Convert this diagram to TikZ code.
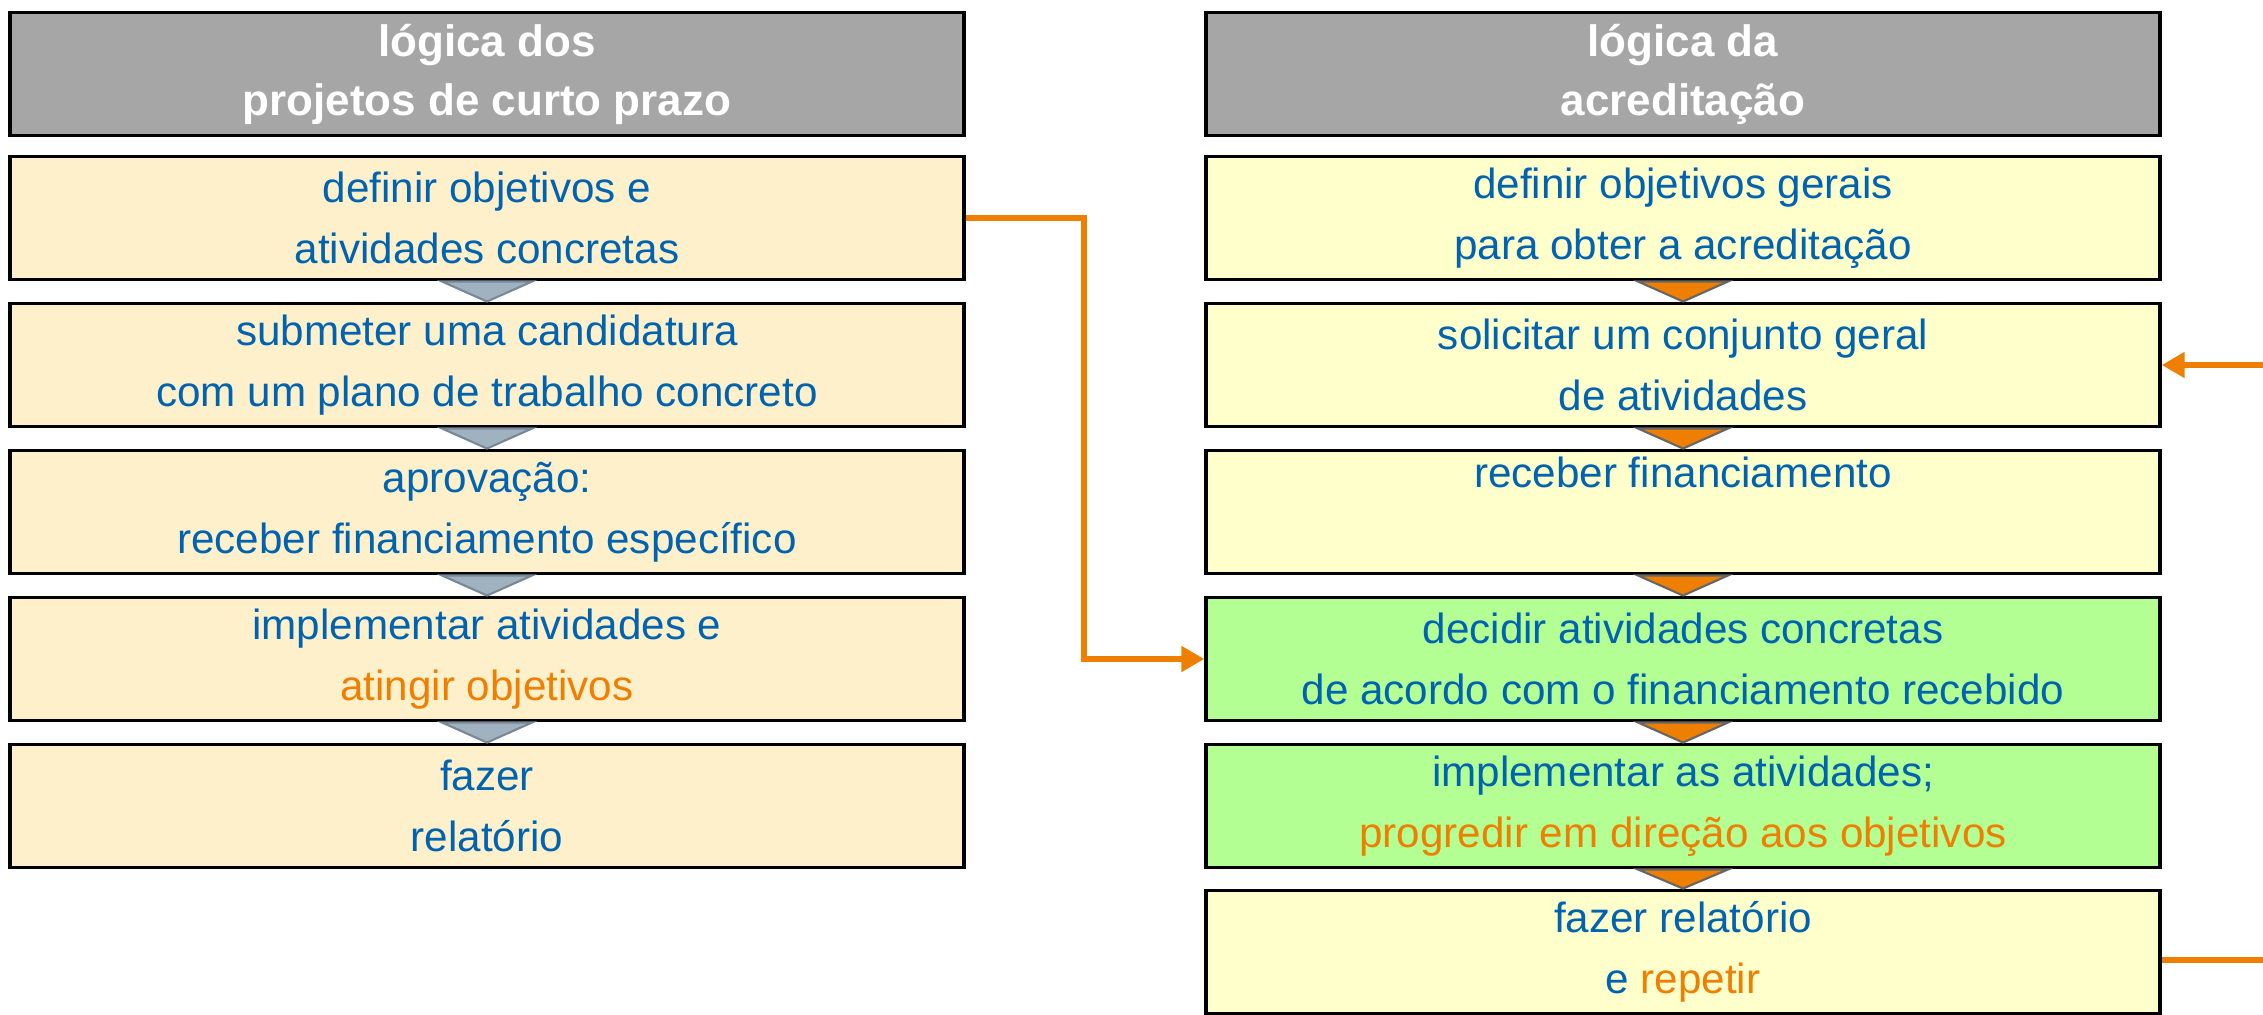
\documentclass[tikz,border=0pt]{standalone}
\usepackage{fontspec}
\setmainfont{Liberation Sans}
\usetikzlibrary{arrows.meta,calc}

\definecolor{hdrgray}{HTML}{A6A6A6}
\definecolor{peach}{HTML}{FFF0CC}
\definecolor{paleyellow}{HTML}{FFFFCC}
\definecolor{palegreen}{HTML}{B4FF94}
\definecolor{txtblue}{HTML}{0063AF}
\definecolor{accorange}{HTML}{EE7F00}
\definecolor{trigray}{HTML}{A0B1C0}
\definecolor{triedge}{HTML}{7A8895}

\newcommand{\hl}[1]{\textcolor{accorange}{#1}}

\begin{document}
\begin{tikzpicture}[x=0.01cm, y=-0.01cm,
    box/.style={draw, line width=1.1pt, minimum width=9.53cm, minimum height=1.23cm,
        inner sep=0pt, align=center, text=txtblue,
        font=\fontsize{12}{17.4}\selectfont},
    hdr/.style={box, fill=hdrgray, text=white,
        font=\bfseries\fontsize{12.5}{16.8}\selectfont},
    tri/.style={fill=trigray, draw=triedge, line width=0.6pt},
    trio/.style={fill=accorange, draw=black!60, line width=0.6pt},
    link/.style={draw=accorange, line width=1.7pt, -{Triangle[length=6.5pt,width=7pt]}}]
                    \useasboundingbox (0,0) rectangle (2263,1014);

                    % left column
                    \node (l0) at (487, 74) [hdr] {lógica dos\\projetos de curto prazo};
                    \node (l1) at (487, 218) [box, fill=peach] {definir objetivos e\\atividades concretas};
                    \node (l2) at (487, 365) [box, fill=peach] {submeter uma candidatura\\com um plano de trabalho concreto};
                    \node (l3) at (487, 512) [box, fill=peach] {aprovação:\\receber financiamento específico};
                    \node (l4) at (487, 659) [box, fill=peach] {implementar atividades e\\\hl{atingir objetivos}};
                    \node (l5) at (487, 806) [box, fill=peach] {fazer\\relatório};

                    % right column
                    \node (r0) at (1683, 74) [hdr] {lógica da\\acreditação};
                    \node (r1) at (1683, 218) [box, fill=paleyellow] {definir objetivos gerais\\para obter a acreditação};
                    \node (r2) at (1683, 365) [box, fill=paleyellow] {solicitar um conjunto geral\\de atividades};
                    \node (r3) at (1683, 512) [box, fill=paleyellow] {receber financiamento\\\strut};
                    \node (r4) at (1683, 659) [box, fill=palegreen] {decidir atividades concretas\\de acordo com o financiamento recebido};
                    \node (r5) at (1683, 806) [box, fill=palegreen] {implementar as atividades;\\\hl{progredir em direção aos objetivos}};
                    \node (r6) at (1683, 952) [box, fill=paleyellow] {fazer relatório\\e \hl{repetir}};

                    % step markers
                    \draw[tri] ($(l1.south)+(-45,0)$) -- ($(l1.south)+(45,0)$) -- (l2.north) -- cycle;
                    \draw[tri] ($(l2.south)+(-45,0)$) -- ($(l2.south)+(45,0)$) -- (l3.north) -- cycle;
                    \draw[tri] ($(l3.south)+(-45,0)$) -- ($(l3.south)+(45,0)$) -- (l4.north) -- cycle;
                    \draw[tri] ($(l4.south)+(-45,0)$) -- ($(l4.south)+(45,0)$) -- (l5.north) -- cycle;
                    \draw[trio] ($(r1.south)+(-45,0)$) -- ($(r1.south)+(45,0)$) -- (r2.north) -- cycle;
                    \draw[trio] ($(r2.south)+(-45,0)$) -- ($(r2.south)+(45,0)$) -- (r3.north) -- cycle;
                    \draw[trio] ($(r3.south)+(-45,0)$) -- ($(r3.south)+(45,0)$) -- (r4.north) -- cycle;
                    \draw[trio] ($(r4.south)+(-45,0)$) -- ($(r4.south)+(45,0)$) -- (r5.north) -- cycle;
                    \draw[trio] ($(r5.south)+(-45,0)$) -- ($(r5.south)+(45,0)$) -- (r6.north) -- cycle;

                    % orange links
                    \coordinate (c1) at (2263, 365);
                    \coordinate (c2) at (2263, 960);
                    \draw[link] (l1.east) -- ++(118,0) |- (r4.west);
                    \draw[link] (c1) -- (r2.east);
                    \draw[link, -] (r6.east |- c2) -- (c2);
                \end{tikzpicture}
\end{document}
